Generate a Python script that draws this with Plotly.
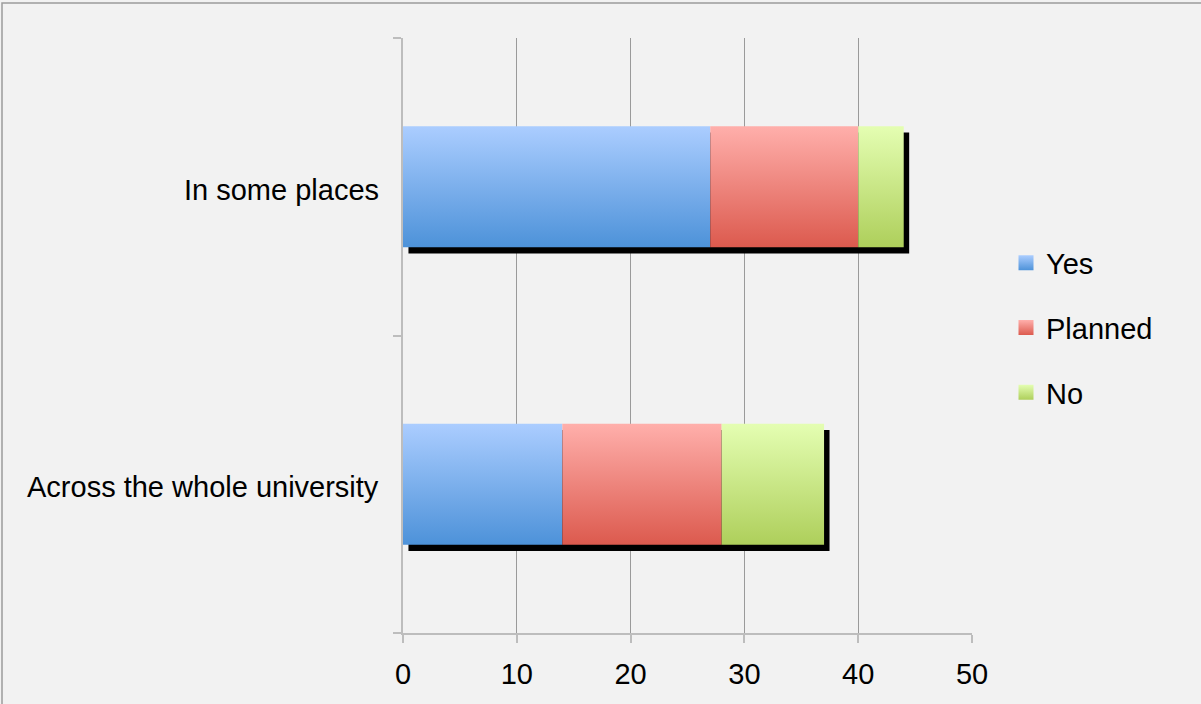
import plotly.graph_objects as go

# Survey responses per scope
categories = ["Across the whole university", "In some places"]
series_names = ["Yes", "Planned", "No"]
yes = [14, 27]
planned = [14, 13]
no = [9, 4]

# Gradient colours per series: (top, bottom)
gradients = {
    "Yes": ("#abcdff", "#4d92d9"),
    "Planned": ("#ffafab", "#dc5a4e"),
    "No": ("#e4feb2", "#aecf5b"),
}

FONT = "Liberation Sans, Arial, sans-serif"
HALF = 0.203          # half bar thickness in category units
SHADOW_DX = 0.48      # drop-shadow offset along value axis
SHADOW_DY = 0.021     # drop-shadow offset along category axis

values = {"Yes": yes, "Planned": planned, "No": no}
totals = [a + b + c for a, b, c in zip(yes, planned, no)]


def rect(x0, x1, yc, dy=0.0):
    return ([x0, x1, x1, x0, x0],
            [yc - HALF - dy, yc - HALF - dy, yc + HALF - dy, yc + HALF - dy, yc - HALF - dy])


fig = go.Figure()

# drop shadows behind each stacked bar
for i, total in enumerate(totals):
    xs, ys = rect(SHADOW_DX, total + SHADOW_DX, i, SHADOW_DY)
    fig.add_trace(go.Scatter(x=xs, y=ys, mode="lines", fill="toself",
                             fillcolor="#000000", line=dict(width=0),
                             showlegend=False, hoverinfo="skip"))

# stacked segments with a vertical gradient
for i in range(len(categories)):
    left = 0
    for name in series_names:
        v = values[name][i]
        top, bottom = gradients[name]
        xs, ys = rect(left, left + v, i)
        fig.add_trace(go.Scatter(
            x=xs, y=ys, mode="lines", fill="toself", line=dict(width=0),
            fillgradient=dict(type="vertical", colorscale=[[0, bottom], [1, top]]),
            name=name, legendgroup=name, showlegend=False,
            hoveron="fills", text=f"{name}: {v}", hoverinfo="text"))
        left += v

# legend entries
for name in series_names:
    top, bottom = gradients[name]
    fig.add_trace(go.Scatter(
        x=[None], y=[None], mode="markers", name=name, legendgroup=name,
        marker=dict(symbol="square", size=15, color=top,
                    gradient=dict(type="vertical", color=bottom),
                    line=dict(width=0))))

L, R, T, B = 403, 229, 38, 71
W, H = 1201, 704
pw, ph = W - L - R, H - T - B


def px_x(p):
    return (p - L) / pw


def px_y(p):
    return (H - B - p) / ph


# category labels left of the value axis
cat_labels = [dict(text=c, xref="paper", x=0, xanchor="right", xshift=-22,
                   yref="y", y=i, yanchor="middle", yshift=-3, showarrow=False,
                   font=dict(family=FONT, size=29, color="#000000"))
              for i, c in enumerate(categories)]

fig.update_layout(
    width=W, height=H,
    margin=dict(l=L, r=R, t=T, b=B),
    paper_bgcolor="#f2f2f2", plot_bgcolor="#f2f2f2",
    font=dict(family=FONT, size=29, color="#000000"),
    showlegend=True,
    legend=dict(x=px_x(1006), xanchor="left", y=px_y(328), yanchor="middle",
                bgcolor="rgba(0,0,0,0)", borderwidth=0, tracegroupgap=24,
                font=dict(family=FONT, size=29, color="#000000")),
    annotations=cat_labels,
    shapes=[dict(type="rect", xref="paper", yref="paper",
                 x0=px_x(2), x1=px_x(1210), y0=px_y(710), y1=px_y(3),
                 line=dict(color="#9c9c9c", width=1.5), layer="below")],
)

fig.update_xaxes(
    range=[0, 50], tickvals=[0, 10, 20, 30, 40, 50],
    showgrid=True, gridcolor="#9a9a9a", gridwidth=1, zeroline=False,
    showline=True, linecolor="#bdbdbd", linewidth=2,
    ticks="outside", ticklen=8, tickcolor="#bdbdbd", tickwidth=2,
    ticklabelstandoff=6,
    tickfont=dict(family=FONT, size=29, color="#000000"),
    fixedrange=True,
)

fig.update_yaxes(
    range=[-0.5, 1.5], tickvals=[-0.5, 0.5, 1.5], ticktext=["", "", ""],
    showgrid=False, zeroline=False,
    showline=True, linecolor="#bdbdbd", linewidth=2, layer="below traces",
    ticks="outside", ticklen=8, tickcolor="#bdbdbd", tickwidth=2,
    fixedrange=True,
)

fig.write_html("out.html")
